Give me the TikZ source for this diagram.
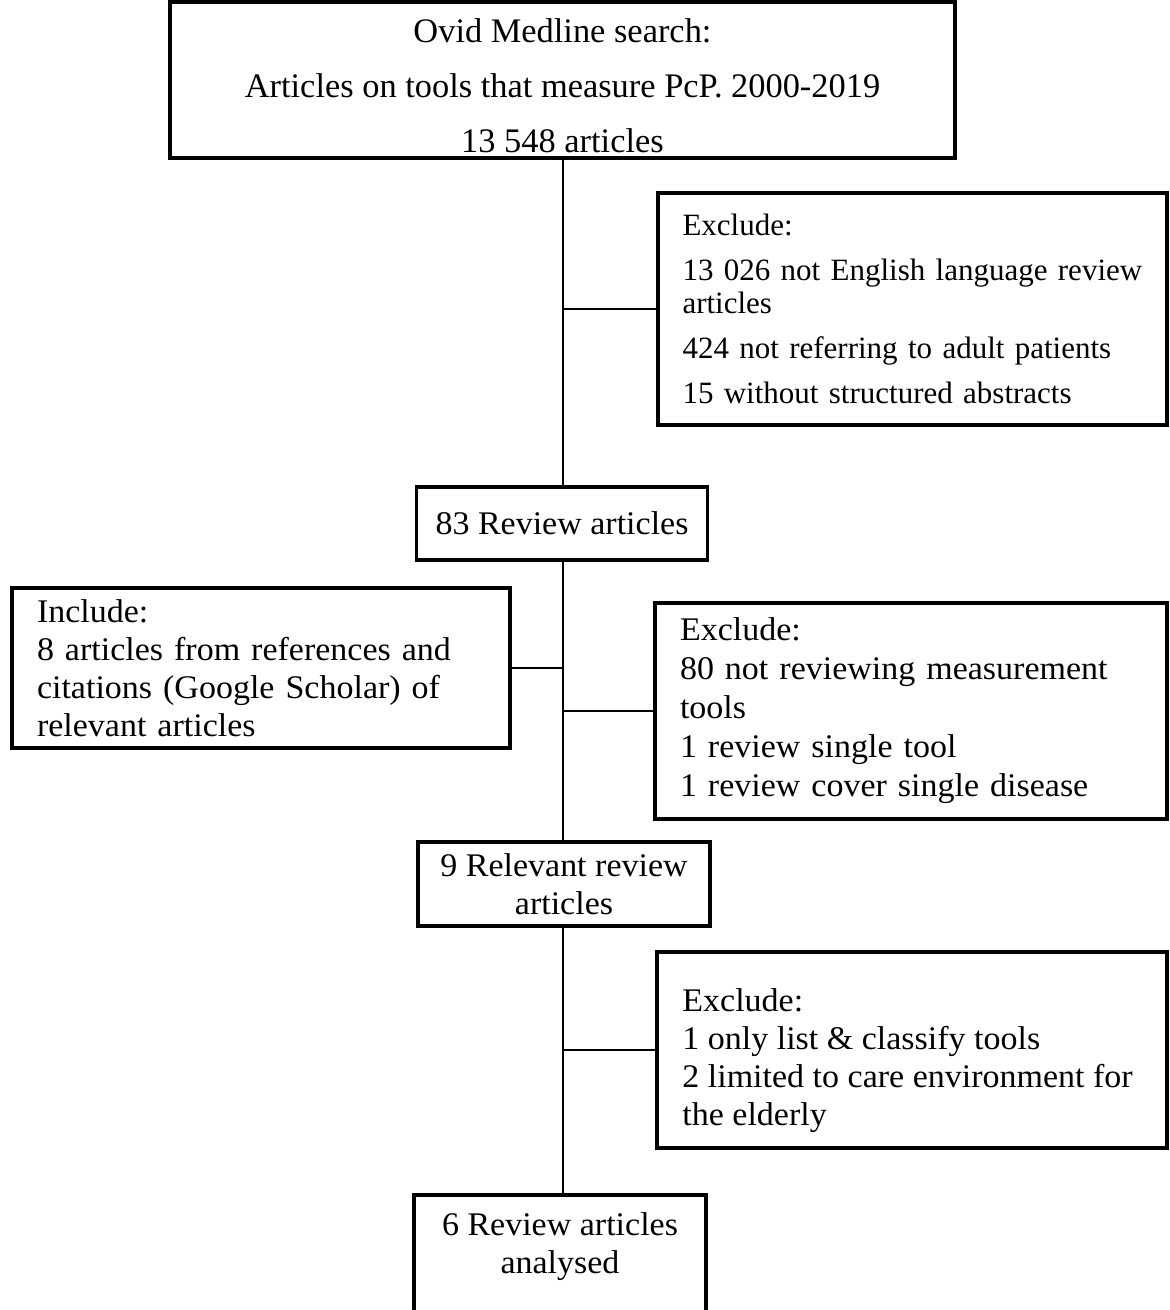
\documentclass[tikz,border=0pt]{standalone}
\usepackage{fontspec}
\setmainfont{Liberation Serif}
\newfontfamily\widefont[FakeStretch=1.03]{Liberation Serif}
\begin{document}
\begin{tikzpicture}[x=0.5pt,y=-0.5pt,
  frame/.style={draw=black,line width=1.7pt,rectangle,inner sep=0pt},
  heavyframe/.style={frame,line width=2.2pt},
  txt/.style={inner sep=0pt,font=\widefont\fontsize{16.5}{19}\selectfont},
  box/.style={frame,font=\widefont\fontsize{16.5}{19}\selectfont},
  listbox/.style={box,align=left},
  link/.style={draw=black,line width=1.4pt}]
\useasboundingbox (0,0) rectangle (1169,1310);

% main column
\node[heavyframe,minimum width=392.5pt,minimum height=78pt] (top) at (562.5,80) {};
\node[txt,align=center,font=\rmfamily\fontsize{17.2}{27.5}\selectfont] (toptxt) at (562.5,86)
  {Ovid Medline search:\\Articles on tools that measure PcP. 2000-2019\\13 548 articles};
\node[box,minimum width=145.5pt,minimum height=36.5pt] (r83) at (562,523.5)
  {83 Review articles};
\node[box,minimum width=146pt,minimum height=42pt,align=center] (r9) at (564,884)
  {9 Relevant review\\articles};
\node[heavyframe,minimum width=146pt,minimum height=67.5pt] (final) at (560,1262.5) {};
\node[txt,align=center] (finaltxt) at (560,1247)
  {6 Review articles\\analysed};

% side boxes
\node[listbox,minimum width=254.5pt,minimum height=116pt,text width=230pt,
      font=\rmfamily\fontsize{15.5}{16.5}\selectfont] (exc1) at (912.5,309)
  {Exclude:\\[6pt]13 026 not English language review\\articles\\[6pt]424 not referring to adult patients\\[6pt]15 without structured abstracts};
\node[listbox,minimum width=249pt,minimum height=80pt,text width=224pt] (inc) at (261,668)
  {Include:\\8 articles from references and\\citations (Google Scholar) of\\relevant articles};
\node[listbox,minimum width=256pt,minimum height=108pt,text width=231pt,
      font=\widefont\fontsize{16.5}{19.5}\selectfont] (exc2) at (911,711)
  {Exclude:\\80 not reviewing measurement\\tools\\1 review single tool\\1 review cover single disease};
\node[frame,minimum width=255pt,minimum height=98pt] (exc3) at (912,1050) {};
\node[txt,align=left,anchor=west] (exc3txt) at (682,1061)
  {Exclude:\\1 only list \& classify tools\\2 limited to care environment for\\the elderly};

% trunk and branches
\coordinate (tx) at (563,0);
\draw[link] (top.south -| tx) -- (r83.north -| tx);
\draw[link] (r83.south -| tx) -- (r9.north -| tx);
\draw[link] (r9.south -| tx) -- (final.north -| tx);
\draw[link] (exc1.west -| tx) -- (exc1.west);
\draw[link] (inc.east) -- (inc.east -| tx);
\draw[link] (exc2.west -| tx) -- (exc2.west);
\draw[link] (exc3.west -| tx) -- (exc3.west);
\end{tikzpicture}
\end{document}
